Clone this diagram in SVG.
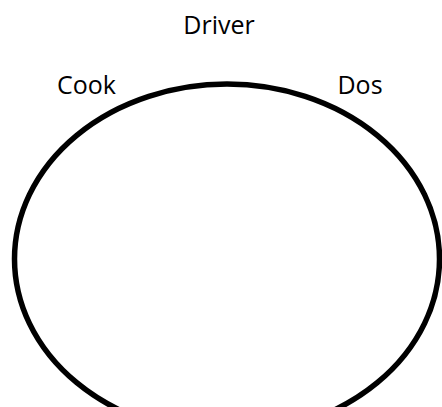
<svg xmlns="http://www.w3.org/2000/svg" width="442" height="407" viewBox="0 0 442 407">
<style>
text{font-family:"Open Sans","Liberation Sans",sans-serif;font-size:25px;fill:#000;text-anchor:middle}
.ring{fill:none;stroke:#000;stroke-width:5.5}
</style>
<rect width="442" height="407" fill="#fff"/>
<g id="ring"><ellipse class="ring" cx="227" cy="259" rx="212.5" ry="175"/></g>
<g id="driver"><text x="219" y="34">Driver</text></g>
<g id="cook"><text x="86.5" y="94">Cook</text></g>
<g id="dos"><text x="360" y="94">Dos</text></g>
<g id="connectors"/>
</svg>
